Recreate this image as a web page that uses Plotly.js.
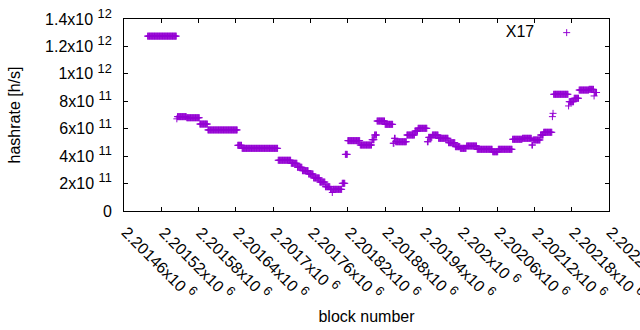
<!DOCTYPE html>
<html><head><meta charset="utf-8">
<script src="https://cdn.plot.ly/plotly-3.0.1.min.js"></script>
<style>html,body{margin:0;padding:0;background:#fff}</style>
</head><body>
<div id="chart" style="width:640px;height:330px"></div>
<script>
// X17 hashrate per block, read off the reference as runs of constant value
// (first block, last block inclusive, hashrate in units of 1e11 h/s)
const runFirstBlock = [2201498,2201545,2201546,2201561,2201582,2201595,2201643,2201650,2201708,2201729,
  2201739,2201747,2201757,2201765,2201775,2201784,2201792,2201795,2201796,2201811,
  2201816,2201820,2201840,2201859,2201863,2201867,2201880,2201893,2201895,2201897,
  2201915,2201928,2201933,2201948,2201950,2201956,2201966,2201982,2201993,2202001,
  2202011,2202028,2202053,2202062,2202085,2202101,2202116,2202118,2202130,2202135,
  2202149,2202150,2202151,2202175,2202176,2202184,2202192,2202208,2202216,2202217];
const runLastBlock = [2201544,2201545,2201560,2201581,2201594,2201642,2201649,2201707,2201728,2201738,
  2201746,2201756,2201764,2201774,2201783,2201791,2201794,2201795,2201810,2201815,
  2201819,2201839,2201858,2201862,2201866,2201879,2201892,2201894,2201896,2201914,
  2201927,2201932,2201947,2201949,2201955,2201965,2201981,2201992,2202000,2202010,
  2202027,2202052,2202061,2202084,2202100,2202115,2202117,2202129,2202134,2202148,
  2202149,2202150,2202174,2202175,2202183,2202191,2202207,2202215,2202216,2202220];
const runHashrateE11 = [12.75,6.72,6.88,6.80,6.34,5.91,4.79,4.57,3.70,3.48,
  3.19,2.94,2.70,2.41,2.11,1.77,1.58,1.35,1.58,2.02,
  4.13,5.13,4.81,5.20,5.54,6.56,6.32,4.94,5.30,5.05,
  5.54,5.83,6.03,5.05,5.37,5.54,5.30,4.98,4.69,4.57,
  4.74,4.50,4.32,4.50,5.23,5.30,4.81,5.18,5.54,5.74,
  6.88,7.12,8.51,7.66,7.97,8.22,8.82,8.87,8.39,8.64];

const seriesName = 'X17';
const xTickVals = [2201460,2201520,2201580,2201640,2201700,2201760,2201820,2201880,2201940,2202000,2202060,2202120,2202180,2202240];
const xTickMant = ['2.20146','2.20152','2.20158','2.20164','2.2017','2.20176','2.20182','2.20188','2.20194','2.202','2.20206','2.20212','2.20218','2.20224'];
const xTickExp = '6';
const yTickVals = [0,2,4,6,8,10,12,14];
const yTickMant = ['0','2','4','6','8','1','1.2','1.4'];
const yTickExp = ['','11','11','11','11','12','12','12'];

const FONT = 'Liberation Sans, Arial, sans-serif';
const supHtml = (e, px) => ' <sup><span style="font-size:' + px + 'px">' + e + '</span></sup>';

// expand the runs: one point per block
const xs = [], ys = [];
runFirstBlock.forEach((b0, i) => {
  for (let b = b0; b <= runLastBlock[i]; b++) { xs.push(b); ys.push(runHashrateE11[i]); }
});

const trace = {
  type: 'scatter', mode: 'markers', name: '', x: xs, y: ys,
  marker: {symbol: 'cross-thin', size: 5, color: '#9400d3', line: {width: 1, color: '#9400d3'}},
  showlegend: true, hoverinfo: 'x+y'
};

const yTickText = yTickMant.map((m, i) => yTickExp[i] ? m + 'x10' + supHtml(yTickExp[i], 12.8) : m);

const annotations = xTickVals.map((v, i) => ({
  x: v, xref: 'x', y: 0, yref: 'paper', yshift: -8, xshift: -7,
  text: xTickMant[i] + 'x10' + supHtml(xTickExp, 12.8),
  textangle: 45, xanchor: 'left', yanchor: 'top', showarrow: false, borderpad: 0,
  font: {family: FONT, size: 16, color: '#000'}
}));

const axisCommon = {
  ticks: 'inside', ticklen: 4, tickwidth: 1, tickcolor: '#000',
  showline: true, linecolor: '#000', linewidth: 1, mirror: 'ticks',
  showgrid: false, zeroline: false
};

const layout = {
  width: 640, height: 330,
  margin: {l: 124, r: 31, t: 19, b: 119},
  paper_bgcolor: '#fff', plot_bgcolor: '#fff',
  font: {family: FONT, size: 16, color: '#000'},
  xaxis: Object.assign({}, axisCommon, {
    range: [2201460, 2202240], tickmode: 'array', tickvals: xTickVals, showticklabels: false,
    title: {text: 'block number', standoff: 99, font: {family: FONT, size: 16}}
  }),
  yaxis: Object.assign({}, axisCommon, {
    range: [0, 14], tickmode: 'array', tickvals: yTickVals, ticktext: yTickText,
    ticklabelstandoff: 8,
    title: {text: 'hashrate [h/s]', standoff: 20, font: {family: FONT, size: 16}}
  }),
  showlegend: true,
  legend: {
    x: 0.783, y: 1.017, xanchor: 'left', yanchor: 'top', bgcolor: 'rgba(0,0,0,0)',
    font: {family: FONT, size: 16},
    title: {text: seriesName + '\u00a0', side: 'left', font: {family: FONT, size: 16}}
  },
  annotations: annotations
};

Plotly.newPlot('chart', [trace], layout, {staticPlot: true, displayModeBar: false});
</script>
</body></html>
